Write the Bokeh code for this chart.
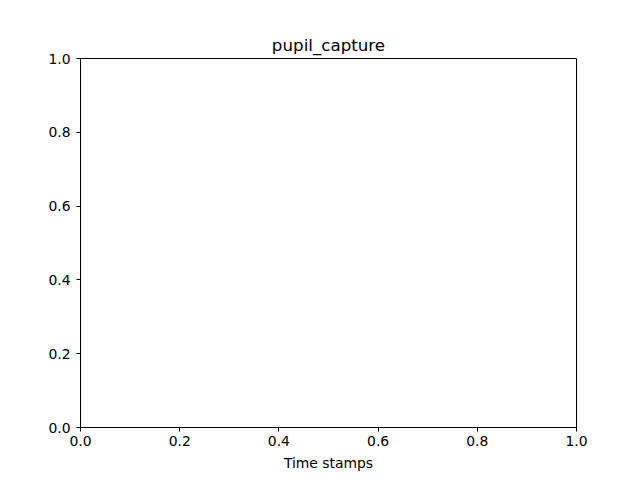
from bokeh.plotting import figure
from bokeh.models import Range1d, FixedTicker, PrintfTickFormatter
from bokeh.embed import file_html
from bokeh.resources import INLINE

title_text = "pupil_capture"
x_label = "Time stamps"
x_ticks = [0.0, 0.2, 0.4, 0.6, 0.8, 1.0]
y_ticks = [0.0, 0.2, 0.4, 0.6, 0.8, 1.0]
x_limits = [0.0, 1.0]
y_limits = [0.0, 1.0]

FONT = "DejaVu Sans"

p = figure(width=640, height=480, output_backend="svg", toolbar_location=None,
           x_range=Range1d(*x_limits), y_range=Range1d(*y_limits),
           min_border_left=80, min_border_right=64, min_border_top=58, min_border_bottom=53)

p.title.text = title_text
p.title.align = "center"
p.title.text_font = FONT
p.title.text_font_size = "16.7px"
p.title.text_font_style = "normal"
p.title.text_color = "black"
p.title.standoff = 8

p.xgrid.visible = False
p.ygrid.visible = False
p.outline_line_color = "black"
p.outline_line_width = 1
p.background_fill_color = "white"
p.border_fill_color = "white"

for ax, ticks in ((p.xaxis[0], x_ticks), (p.yaxis[0], y_ticks)):
    ax.ticker = FixedTicker(ticks=ticks)
    ax.formatter = PrintfTickFormatter(format="%.1f")
    ax.major_tick_in = 0
    ax.major_tick_out = 4
    ax.minor_tick_line_color = None
    ax.major_label_text_font = FONT
    ax.major_label_text_font_size = "13.9px"
    ax.major_label_text_color = "black"
    ax.axis_line_color = "black"
    ax.major_tick_line_color = "black"

p.xaxis[0].major_label_standoff = 4
p.yaxis[0].major_label_standoff = 6

p.xaxis[0].axis_label = x_label
p.xaxis[0].axis_label_text_font = FONT
p.xaxis[0].axis_label_text_font_size = "13.9px"
p.xaxis[0].axis_label_text_font_style = "normal"
p.xaxis[0].axis_label_text_color = "black"
p.xaxis[0].axis_label_standoff = 6

open("out.html", "w").write(file_html(p, INLINE))
